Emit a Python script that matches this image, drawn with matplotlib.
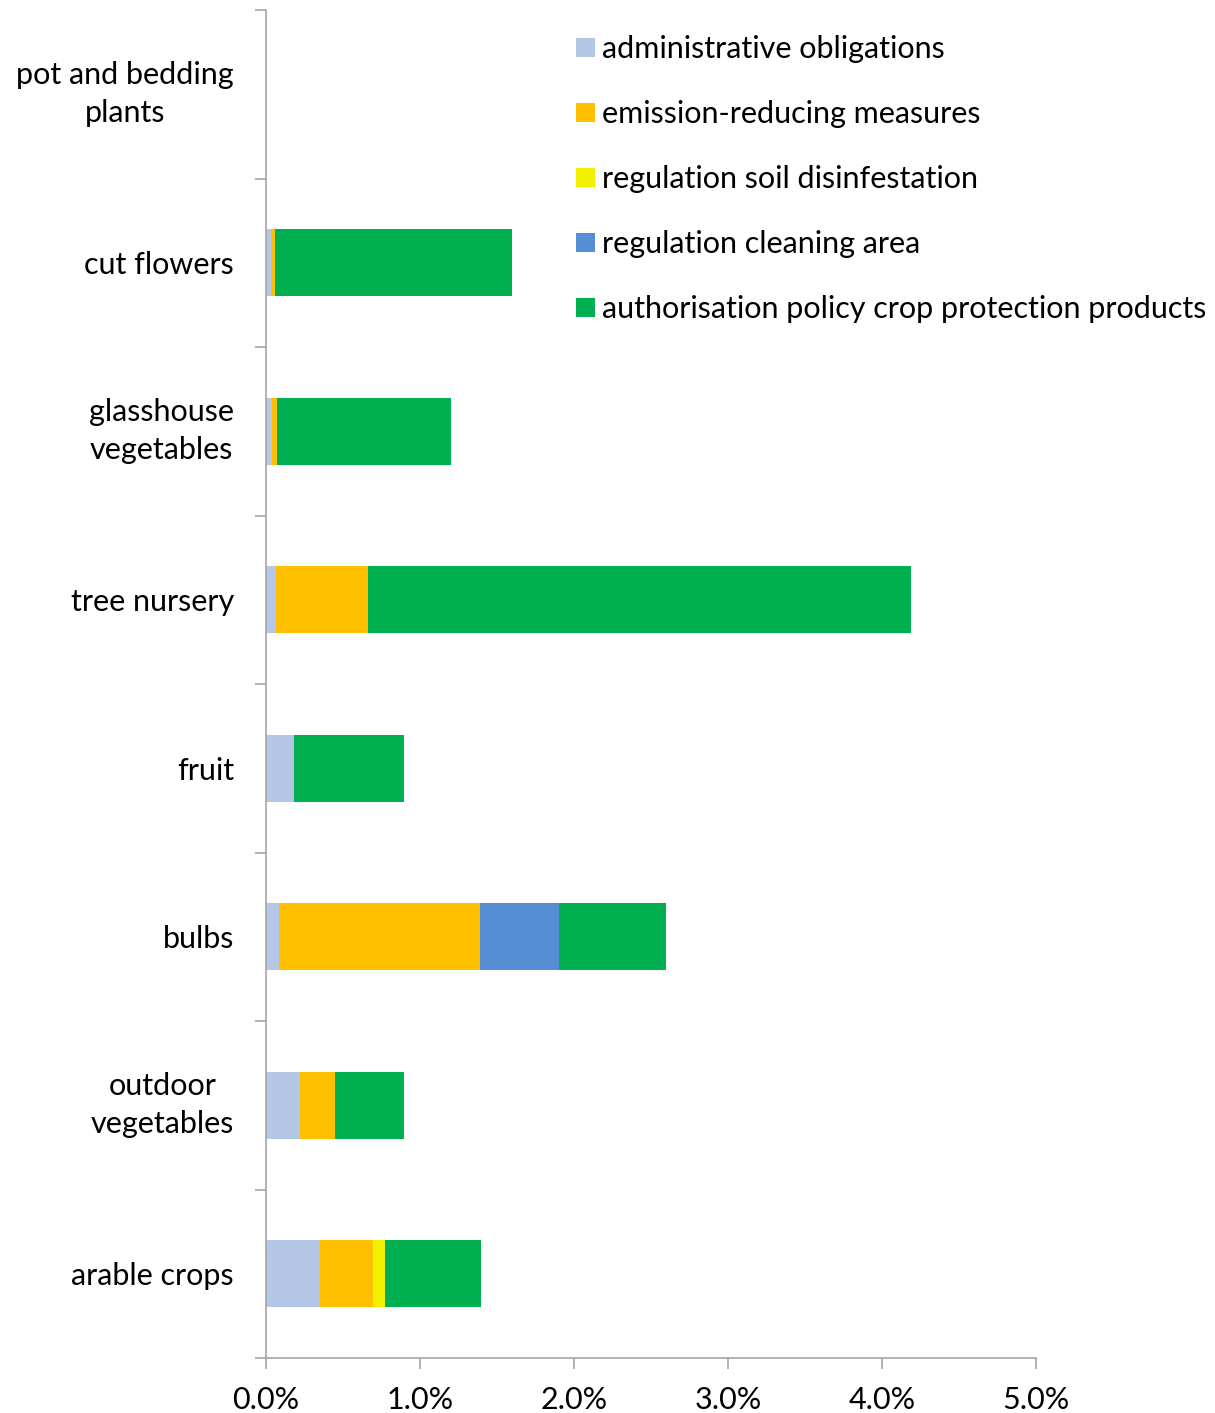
import matplotlib
matplotlib.use("Agg")
import matplotlib.pyplot as plt
import numpy as np
from matplotlib.ticker import FuncFormatter, FixedLocator

categories = ["pot and bedding\nplants", "cut flowers", "glasshouse\nvegetables",
              "tree nursery", "fruit", "bulbs", "outdoor\nvegetables", "arable crops"]
series_names = ["administrative obligations", "emission-reducing measures",
                "regulation soil disinfestation", "regulation cleaning area",
                "authorisation policy crop protection products"]
admin = [0.0, 0.033, 0.040, 0.063, 0.179, 0.085, 0.22, 0.348]
emission = [0.0, 0.025, 0.030, 0.597, 0.0, 1.302, 0.225, 0.350]
soil = [0.0, 0.0, 0.0, 0.0, 0.0, 0.0, 0.0, 0.072]
cleaning = [0.0, 0.0, 0.0, 0.0, 0.0, 0.516, 0.0, 0.0]
authorisation = [0.0, 1.537, 1.130, 3.530, 0.716, 0.694, 0.450, 0.625]
colors = ["#B4C7E7", "#FFC000", "#F0F000", "#558ED5", "#00B050"]

plt.rcParams['font.family'] = ['Lato', 'DejaVu Sans']
fig = plt.figure(figsize=(12.15, 14.13), dpi=100)
ax = fig.add_axes([266/1215, 1-1358/1413, (1036-266)/1215, (1358-10)/1413])

n = len(categories)
y = np.arange(n)
left = np.zeros(n)
for name, vals, c in zip(series_names, [admin, emission, soil, cleaning, authorisation], colors):
    v = np.array(vals)
    ax.barh(y, v, left=left, height=0.4, color=c, label=name, linewidth=0)
    left += v

ax.set_ylim(n - 0.5, -0.5)
ax.set_xlim(0, 5)
ax.set_xticks(np.arange(0, 6, 1))
ax.xaxis.set_major_formatter(FuncFormatter(lambda v, p: f"{v:.1f}%"))
ax.set_yticks(y)
labels = ax.set_yticklabels(categories, fontsize=22, ha='right', multialignment='center', linespacing=1.45)
for lab in labels:
    if "\n" in lab.get_text():
        lab.set_va('center')
ax.yaxis.set_minor_locator(FixedLocator(np.arange(-0.5, n, 1)))
ax.tick_params(axis='y', which='major', length=0, pad=23)
ax.tick_params(axis='y', which='minor', length=8, color='#A6A6A6', width=1.2)
ax.tick_params(axis='x', which='major', length=8, color='#A6A6A6', width=1.2, labelsize=22, pad=12)
for s in ['top', 'right']:
    ax.spines[s].set_visible(False)
for s in ['left', 'bottom']:
    ax.spines[s].set_color('#A6A6A6')
    ax.spines[s].set_linewidth(1.2)

leg = ax.legend(loc='upper left', bbox_to_anchor=((564-266)/770, 1.0 - 13/1348), frameon=False,
                fontsize=22, handlelength=0.6, handleheight=0.6, handletextpad=0.25,
                labelspacing=1.21, borderaxespad=0)

fig.savefig("out.png", dpi=100, facecolor='white')
